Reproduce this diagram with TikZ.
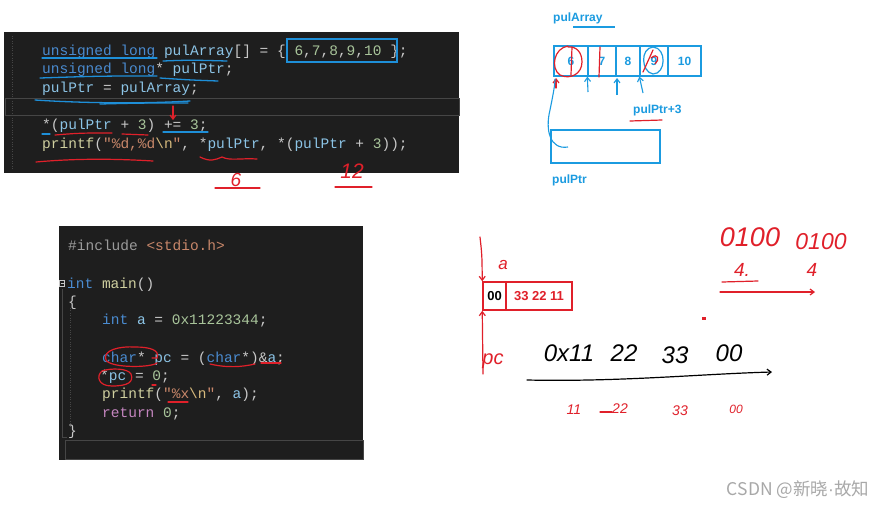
\documentclass[tikz,border=0pt]{standalone}
\usepackage{fontspec}
\newfontfamily\codefont{Liberation Mono}
\newfontfamily\uifont{Liberation Sans}
\newfontfamily\handfont{Liberation Sans}
\newfontfamily\cjkfont{Noto Sans CJK SC}
\usetikzlibrary{arrows.meta}
\definecolor{panelbg}{HTML}{1E1E1E}
\definecolor{lineframe}{HTML}{464646}
\definecolor{ckw}{HTML}{4A8BD0}
\definecolor{cvar}{HTML}{8CC4E6}
\definecolor{cnum}{HTML}{A8C49A}
\definecolor{cpunct}{HTML}{C8C8C8}
\definecolor{cfn}{HTML}{D0D0A0}
\definecolor{cstr}{HTML}{C8876A}
\definecolor{cesc}{HTML}{D7BA7D}
\definecolor{cpre}{HTML}{9B9B9B}
\definecolor{cret}{HTML}{C586C0}
\definecolor{annblue}{HTML}{1E8FD8}
\definecolor{dblue}{HTML}{1B9BE0}
\definecolor{annred}{HTML}{E0202A}
\definecolor{wmark}{HTML}{A8A8A8}
\newcommand{\kw}[1]{\textcolor{ckw}{#1}}
\newcommand{\vr}[1]{\textcolor{cvar}{#1}}
\newcommand{\nm}[1]{\textcolor{cnum}{#1}}
\newcommand{\fn}[1]{\textcolor{cfn}{#1}}
\newcommand{\st}[1]{\textcolor{cstr}{#1}}
\newcommand{\esc}[1]{\textcolor{cesc}{#1}}
\newcommand{\pp}[1]{\textcolor{cpre}{#1}}
\newcommand{\rt}[1]{\textcolor{cret}{#1}}
\tikzset{
  code/.style={anchor=base west, inner sep=0pt, text=cpunct, font=\codefont\fontsize{14.5}{17}\selectfont},
  bluepen/.style={draw=annblue, line width=1.3pt, line cap=round},
  redpen/.style={draw=annred, line width=1.2pt, line cap=round},
  blackpen/.style={draw=black, line width=1.2pt, line cap=round},
  hand/.style={-{Straight Barb[length=4pt,width=6pt]}},
  cell/.style={draw=dblue, line width=1.3pt, minimum height=30pt, inner sep=0pt, text=dblue, font=\uifont\bfseries\fontsize{12}{14}\selectfont},
  rcell/.style={draw=annred, line width=1.5pt, minimum height=28pt, inner sep=0pt, font=\uifont\bfseries\fontsize{13}{15}\selectfont},
  lbl/.style={inner sep=0pt, text=dblue, font=\uifont\bfseries\fontsize{12}{14}\selectfont},
  hw/.style={inner sep=0pt, font=\handfont\itshape},
  linebox/.style={draw=lineframe, line width=0.8pt}
}
\begin{document}
\begin{tikzpicture}[x=1pt,y=-1pt]
\useasboundingbox (0,0) rectangle (892,507);
\fill[white] (0,0) rectangle (892,507);

% ---------- code panel 1 ----------
\fill[panelbg] (4,32) rectangle (459,173);
\draw[linebox] (5,98) rectangle (459,115);
\draw[lineframe, dotted] (12,36) -- (12,170);
\node[code] (l1) at (42,55) {\kw{unsigned} \kw{long} \vr{pulArray}[] = \{ \nm{6},\nm{7},\nm{8},\nm{9},\nm{10} \};};
\node[code] (l2) at (42,73) {\kw{unsigned} \kw{long}* \vr{pulPtr};};
\node[code] (l3) at (42,92) {\vr{pulPtr} = \vr{pulArray};};
\node[code] (l5) at (42,129) {*(\vr{pulPtr} + \nm{3}) += \nm{3};};
\node[code] (l6) at (42,148) {\fn{printf}(\st{"\%d,\%d}\esc{\textbackslash n}\st{"}, *\vr{pulPtr}, *(\vr{pulPtr} + \nm{3}));};

% annotations panel 1
\draw[bluepen] (287,39) rectangle (397,62);
\draw[bluepen] (42,58) -- (157,58);
\draw[bluepen] (163,61) .. controls (190,60) .. (227,61);
\draw[bluepen] (40,78) .. controls (100,76) .. (157,76);
\draw[bluepen] (160,78) .. controls (190,80) .. (218,81);
\draw[bluepen] (35,100) .. controls (80,103) and (140,104) .. (190,101);
\draw[bluepen] (100,104) .. controls (140,103) .. (188,103);
\draw[redpen, hand] (173,106) -- (173,120);
\draw[bluepen] (42,134) -- (50,134);
\draw[redpen] (55,135) .. controls (80,133) .. (112,133);
\draw[redpen] (122,134) -- (148,135);
\draw[bluepen] (163,132) -- (208,132);
\draw[redpen] (36,162) .. controls (80,158) and (120,159) .. (153,161);
\draw[redpen] (200,157) .. controls (210,162) and (215,160) .. (222,157)
  .. controls (230,161) and (240,158) .. (257,159);
\node[hw, text=annred, font=\handfont\itshape\fontsize{19}{20}\selectfont] (six) at (236,180) {6};
\draw[redpen] (215,188) -- (260,188);
\node[hw, text=annred, font=\handfont\itshape\fontsize{21}{22}\selectfont] (twelve) at (352,171) {12};
\draw[redpen] (335,187) -- (372,187);

% ---------- code panel 2 ----------
\fill[panelbg] (59,226) rectangle (363,460);
\draw[linebox] (65,440) rectangle (363,459);
\draw[lineframe, line width=0.8pt] (62,289) -- (62,437) -- (67,437);
\draw[cpunct, line width=0.5pt] (59.5,280) rectangle (64.5,286);
\draw[cpunct, line width=0.5pt] (60.5,283) -- (63.5,283);
\draw[lineframe, dotted] (70,308) -- (70,428);
\node[code] (m1) at (68,250) {\pp{\#include} \st{<stdio.h>}};
\node[code] (m2) at (67,288) {\kw{int} \fn{main}()};
\node[code] (m3) at (68,306) {\{};
\node[code] (m4) at (102,324) {\kw{int} \vr{a} = \nm{0x11223344};};
\node[code] (m5) at (102,362) {\kw{char}* \vr{pc} = (\kw{char}*)\&\vr{a};};
\node[code] (m6) at (100,380) {*\vr{pc} = \nm{0};};
\node[code] (m7) at (102,398) {\fn{printf}(\st{"\%x}\esc{\textbackslash n}\st{"}, \vr{a});};
\node[code] (m8) at (102,417) {\rt{return} \nm{0};};
\node[code] (m9) at (68,435) {\}};

% annotations panel 2
\draw[redpen] (157,363) .. controls (150,368) and (110,368) .. (106,360)
  .. controls (102,350) and (120,346) .. (135,347)
  .. controls (150,347) and (160,350) .. (157,358) -- (152,358);
\draw[redpen] (210,364) .. controls (227,368) and (242,367) .. (255,364);
\draw[redpen] (261,363) -- (281,363);
\draw[redpen] (102,371) .. controls (96,376) and (98,386) .. (112,386)
  .. controls (128,386) and (134,382) .. (131,374)
  .. controls (128,368) and (110,368) .. (102,371);
\draw[redpen] (152,385) -- (156,385);
\draw[redpen] (168,402) -- (188,402);

% ---------- pulArray diagram ----------
\node[lbl, anchor=west] (arrlbl) at (553,18) {pulArray};
\draw[dblue, line width=1.2pt] (573,27) -- (615,27);
\node[cell, minimum width=34pt] (c1) at (571,61) {6};
\node[cell, minimum width=28pt] (c2) at (602,61) {7};
\node[cell, minimum width=24pt] (c3) at (628,61) {8};
\node[cell, minimum width=28pt] (c4) at (654,61) {9};
\node[cell, minimum width=33pt] (c5) at (684.5,61) {10};
% red marks on cells
\draw[redpen] (568,46) .. controls (554,48) and (550,68) .. (560,75)
  .. controls (570,80) and (582,74) .. (582,62)
  .. controls (582,52) and (576,46) .. (568,47);
\draw[redpen] (572,47) -- (571,75);
\draw[redpen] (600,47) -- (599,77);
\draw[dblue, line width=1.2pt] (653,47) .. controls (640,48) and (641,72) .. (653,74)
  .. controls (666,74) and (667,48) .. (653,47);
\draw[redpen] (643,72) -- (653,50);
\draw[redpen] (651,58) .. controls (658,52) and (660,60) .. (655,64);
% pointer arrows
\coordinate (pa1) at (556,88);
\coordinate (pa2) at (588,92);
\coordinate (pa3) at (617,95);
\coordinate (pa4) at (643,93);
\draw[redpen, hand] (pa1) -- (556,78);
\draw[dblue, line width=1.1pt, hand] (pa2) -- (c2.south west);
\draw[dblue, line width=1.1pt, hand] (pa3) -- (617,78);
\draw[dblue, line width=1.1pt, hand] (pa4) -- (c4.south west);
\node[lbl, anchor=west] (p3lbl) at (633,110) {pulPtr+3};
\draw[redpen] (630,121) -- (662,120);
\node[draw=dblue, line width=1.3pt, minimum width=109pt, minimum height=33pt, inner sep=0pt] (ptr) at (605.5,146.5) {};
\coordinate (ptrin) at (568,147);
\draw[dblue, line width=1.1pt] (ptrin) .. controls (550,150) and (545,130) .. (550,110)
  .. controls (553,95) and (555,85) .. (555,79);
\node[lbl, anchor=west] (ptrlbl) at (552,180) {pulPtr};

% ---------- memory box a / pc ----------
\node[rcell, minimum width=23pt] (b0) at (494.5,296) {\textcolor{black}{00}};
\node[rcell, minimum width=66pt, text=annred] (b1) at (539,296) {33 22 11};
\coordinate (atop) at (480,237);
\draw[redpen, hand] (atop) .. controls (482,255) .. (b0.north west);
\node[hw, text=annred, font=\handfont\itshape\fontsize{17}{18}\selectfont] (alab) at (503,265) {a};
\coordinate (pcbot) at (483,374);
\draw[redpen, hand] (pcbot) -- (b0.south west);
\node[hw, text=annred, font=\handfont\itshape\fontsize{20}{21}\selectfont] (pclab) at (493,361) {pc};

% black handwriting
\node[hw, font=\handfont\itshape\fontsize{24}{25}\selectfont] (h1) at (569,353) {0x11};
\node[hw, font=\handfont\itshape\fontsize{24}{25}\selectfont] (h2) at (624,353) {22};
\node[hw, font=\handfont\itshape\fontsize{24}{25}\selectfont] (h3) at (675,355) {33};
\node[hw, font=\handfont\itshape\fontsize{24}{25}\selectfont] (h4) at (729,353) {00};
\coordinate (ba1) at (527,380);
\coordinate (ba2) at (772,372);
\draw[blackpen, hand] (ba1) .. controls (620,382) and (700,374) .. (ba2);

% red handwriting bottom
\node[hw, text=annred, font=\handfont\itshape\fontsize{14}{15}\selectfont] (r1) at (574,410) {11};
\node[hw, text=annred, font=\handfont\itshape\fontsize{14}{15}\selectfont] (r2) at (620,409) {22};
\node[hw, text=annred, font=\handfont\itshape\fontsize{14}{15}\selectfont] (r3) at (680,411) {33};
\node[hw, text=annred, font=\handfont\itshape\fontsize{12}{13}\selectfont] (r4) at (736,409) {00};
\draw[redpen] (600,412) -- (612,412);

% red handwriting top right
\node[hw, text=annred, font=\handfont\itshape\fontsize{27}{28}\selectfont] (t1) at (750,237) {0100};
\node[hw, text=annred, font=\handfont\itshape\fontsize{23}{24}\selectfont] (t2) at (821,242) {0100};
\node[hw, text=annred, font=\handfont\itshape\fontsize{19}{20}\selectfont] (f1) at (742,270) {4.};
\node[hw, text=annred, font=\handfont\itshape\fontsize{19}{20}\selectfont] (f2) at (812,270) {4};
\draw[redpen] (722,282) -- (758,281);
\coordinate (fa1) at (720,292);
\coordinate (fa2) at (815,292);
\draw[redpen, hand] (fa1) -- (fa2);
\fill[annred] (702,317) rectangle (706,319.5);

% watermark
\node[inner sep=0pt, text=wmark, font=\cjkfont\fontsize{17.5}{18}\selectfont] (wm) at (798,490) {CSDN @新晓{\handfont ·}故知};
\end{tikzpicture}
\end{document}
